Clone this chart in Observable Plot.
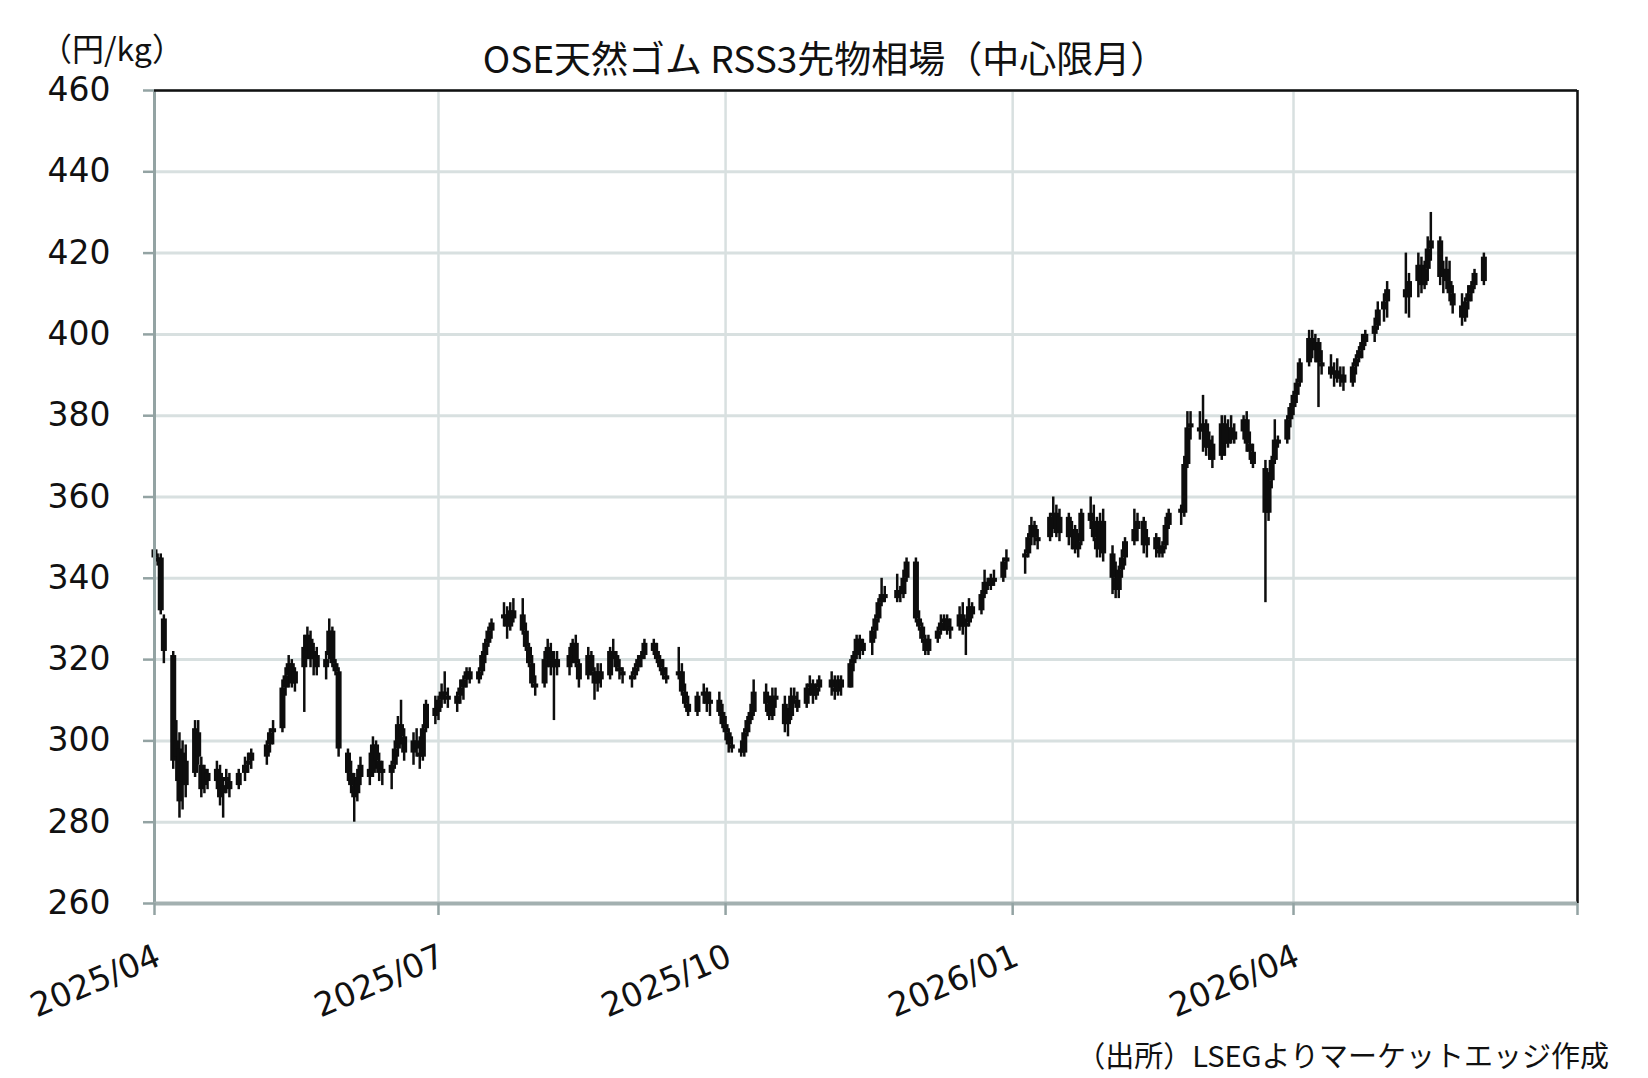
<!DOCTYPE html>
<html><head><meta charset="utf-8">
<script src="https://cdn.jsdelivr.net/npm/d3@7"></script>
<script src="https://cdn.jsdelivr.net/npm/@observablehq/plot@0.6"></script>
<style>
body{margin:0;background:#fff;}
#wrap{position:relative;width:1648px;height:1078px;overflow:hidden;background:#fff;}
#chart{position:absolute;left:0;top:0;}
.t{position:absolute;font-family:"Noto Sans CJK JP",sans-serif;color:#111;white-space:nowrap;line-height:1;}
#title{left:825px;top:39px;font-size:37px;transform:translateX(-50%);}
#unit{left:40px;top:31px;font-size:32px;}
#source{right:39px;top:1040px;font-size:29px;}
</style></head><body>
<div id="wrap">
<div id="chart"></div>
<div class="t" id="title">OSE天然ゴム RSS3先物相場（中心限月）</div>
<div class="t" id="unit">（円/kg）</div>
<div class="t" id="source">（出所）LSEGよりマーケットエッジ作成</div>
</div>
<script>
// [day, open, high, low, close] per trading day, grouped by month
const apr25 = [[1,347,349,344,345],[2,345,346,343,344],[3,345,346,331,332],[4,330,331,319,322],[7,321,322,293,295],[8,296,305,290,300],[9,298,302,281,285],[10,290,300,283,297],[11,295,299,286,289],[14,292,305,291,303],[15,302,305,294,296],[16,294,296,286,288],[17,289,294,287,293],[18,292,293,288,290],[21,290,295,288,293],[22,292,294,284,286],[23,287,291,281,289],[24,290,293,287,291],[25,290,292,286,288],[28,289,293,288,292],[30,292,296,290,294]];
const may25 = [[1,294,297,292,295],[2,295,298,293,297],[7,296,300,294,299],[8,299,303,297,302],[9,302,305,299,303],[12,303,315,302,313],[13,313,318,311,316],[14,316,321,313,319],[15,319,320,313,314],[16,314,318,312,317],[19,318,326,307,323],[20,322,328,320,326],[21,325,327,318,320],[22,320,324,316,322],[23,321,323,316,318],[26,318,322,315,320],[27,321,330,320,327],[28,327,328,318,319],[29,319,320,316,317],[30,317,318,296,298]];
const jun25 = [[2,297,298,290,292],[3,292,295,287,289],[4,289,292,280,286],[5,287,293,285,291],[6,291,296,289,294],[9,293,297,289,291],[10,292,301,291,299],[11,299,300,293,295],[12,295,297,290,292],[13,292,295,289,293],[16,292,295,288,294],[17,294,300,293,298],[18,298,306,296,304],[19,304,310,299,301],[20,301,303,295,297],[23,297,302,294,300],[24,300,303,296,298],[25,297,301,293,296],[26,296,304,295,303],[27,303,310,302,309],[30,308,311,304,306]];
const jul25 = [[1,307,311,305,310],[2,310,314,308,312],[3,312,317,309,311],[4,311,313,308,310],[7,309,312,307,311],[8,311,315,309,313],[9,313,316,310,315],[10,315,318,313,317],[11,317,318,314,315],[14,315,318,314,317],[15,317,322,316,321],[16,321,325,319,324],[17,324,328,323,327],[18,327,330,325,329],[22,330,334,328,331],[23,331,333,325,328],[24,328,334,327,332],[25,332,335,329,330],[28,331,335,326,327],[29,327,329,322,323],[30,323,324,318,319],[31,319,321,313,314]];
const aug25 = [[1,314,316,311,313],[4,314,322,313,320],[5,320,325,318,323],[6,322,324,316,318],[7,318,322,305,320],[8,320,322,316,318],[12,318,323,316,321],[13,321,325,319,324],[14,324,326,318,319],[15,319,320,313,315],[18,316,323,315,321],[19,321,322,316,317],[20,317,318,310,314],[21,314,319,312,317],[22,317,319,313,315],[25,316,323,315,322],[26,322,325,320,321],[27,321,322,317,318],[28,318,320,315,317],[29,317,318,314,316]];
const sep25 = [[1,315,317,313,316],[2,316,319,315,318],[3,318,321,317,320],[4,320,322,318,321],[5,321,325,320,324],[8,324,325,321,322],[9,322,324,319,320],[10,320,321,317,318],[11,318,320,315,316],[12,316,318,314,315],[16,316,323,315,317],[17,317,319,311,312],[18,312,314,308,309],[19,309,311,306,307],[22,307,312,306,311],[24,311,314,309,312],[25,312,313,307,309],[26,309,312,306,310],[29,310,312,306,307],[30,307,309,303,304]];
const oct25 = [[1,304,306,300,302],[2,302,303,297,299],[3,299,301,297,298],[6,298,300,296,297],[7,297,303,296,302],[8,302,306,301,305],[9,305,309,304,307],[10,307,315,306,312],[14,312,314,307,309],[15,309,311,305,306],[16,306,313,305,311],[17,311,313,308,310],[20,309,311,302,304],[21,304,308,301,306],[22,306,313,305,311],[23,311,313,309,310],[24,310,312,307,308],[27,309,314,308,313],[28,313,316,311,314],[29,314,315,309,311],[30,311,314,310,313],[31,313,316,312,315]];
const nov25 = [[4,315,317,311,313],[5,313,316,310,312],[6,312,316,311,315],[7,315,316,311,313],[10,313,320,313,319],[11,319,322,317,321],[12,321,326,320,325],[13,325,326,320,322],[14,322,325,321,324],[17,324,328,321,327],[18,327,331,325,330],[19,330,335,329,334],[20,334,340,333,336],[21,336,338,334,335],[25,335,341,334,337],[26,337,338,334,336],[27,336,342,335,340],[28,340,345,339,344]];
const dec25 = [[1,344,345,329,330],[2,330,332,327,328],[3,328,329,324,325],[4,325,326,321,322],[5,322,326,321,325],[8,325,328,324,327],[9,327,331,326,329],[10,329,331,327,330],[11,330,331,326,327],[12,327,330,325,328],[15,328,333,327,331],[16,331,334,326,328],[17,328,330,321,329],[18,329,335,328,333],[19,333,334,330,331],[22,332,337,331,336],[23,336,342,335,339],[24,339,340,337,338],[25,338,341,337,340],[26,340,342,338,339],[29,340,345,339,344],[30,344,347,342,345]];
const jan26 = [[5,345,347,341,346],[6,346,351,345,350],[7,350,355,348,353],[8,353,354,348,350],[9,350,352,347,349],[13,350,356,349,355],[14,355,360,352,356],[15,356,358,350,351],[16,351,357,349,355],[19,355,356,348,350],[20,350,354,347,352],[21,352,353,346,347],[22,347,351,345,349],[23,349,357,348,356],[26,356,360,352,354],[27,354,358,349,350],[28,350,355,345,347],[29,347,356,345,354],[30,354,357,344,346]];
const feb26 = [[2,346,348,336,340],[3,340,344,335,337],[4,337,343,335,342],[5,342,347,340,345],[6,345,350,343,349],[9,349,357,348,352],[10,352,356,349,354],[12,354,355,346,348],[13,348,352,345,350],[16,350,351,345,347],[17,347,350,345,346],[18,346,349,345,348],[19,348,355,347,353],[20,353,357,352,356],[24,356,358,353,357],[25,356,370,355,368],[26,368,381,367,377],[27,377,381,374,378]];
const mar26 = [[2,377,381,374,376],[3,376,385,371,378],[4,378,379,370,372],[5,372,376,369,374],[6,373,375,367,369],[9,370,380,369,378],[10,378,380,370,373],[11,373,379,372,377],[12,377,380,373,374],[13,374,378,373,376],[16,376,380,374,379],[17,379,381,371,373],[18,373,376,369,371],[19,371,373,367,368],[23,367,369,334,356],[24,356,366,354,364],[25,364,370,362,369],[26,369,379,368,374],[27,374,375,372,373],[30,374,380,373,379],[31,379,383,377,382]];
const apr26 = [[1,382,386,380,385],[2,385,389,383,388],[3,388,394,387,393],[6,393,401,392,399],[7,399,401,394,396],[8,396,400,393,398],[9,398,399,382,393],[10,393,396,390,392],[13,392,395,389,390],[14,390,393,387,391],[15,391,394,388,389],[16,389,392,387,390],[17,390,392,386,388],[20,388,393,387,392],[21,392,395,390,394],[22,394,397,393,396],[23,396,400,394,398],[24,398,401,397,400],[27,400,404,398,402],[28,402,408,401,406],[30,406,410,403,408]];
const may26 = [[1,408,413,404,411],[7,411,420,405,409],[8,409,415,404,413],[11,413,420,409,417],[12,417,419,410,412],[13,412,418,411,416],[14,416,424,413,421],[15,421,430,418,423],[18,423,424,412,414],[19,414,418,410,416],[20,416,419,411,413],[21,413,418,408,410],[22,410,412,405,407],[25,407,410,402,404],[26,404,409,403,408],[27,408,412,406,410],[28,410,413,408,412],[29,412,416,411,415]];
const jun26 = [[1,413,420,412,419]];

const yTicks = [260,280,300,320,340,360,380,400,420,440,460];
const quarterDates = ["2025-04-01","2025-07-01","2025-10-01","2026-01-01","2026-04-01","2026-07-01"];
const quarterLabels = ["2025/04","2025/07","2025/10","2026/01","2026/04"];

const months = [["2025-04",apr25],["2025-05",may25],["2025-06",jun25],["2025-07",jul25],["2025-08",aug25],["2025-09",sep25],["2025-10",oct25],["2025-11",nov25],["2025-12",dec25],["2026-01",jan26],["2026-02",feb26],["2026-03",mar26],["2026-04",apr26],["2026-05",may26],["2026-06",jun26]];
const data = months.flatMap(([ym, rows]) => rows.map(([d,o,h,l,c]) => ({
  date: new Date(`${ym}-${String(d).padStart(2,"0")}T00:00:00Z`), open:o, high:h, low:l, close:c
})));
const qDates = quarterDates.map(s => new Date(s + "T00:00:00Z"));
const labelData = quarterLabels.map((label,i) => ({date: qDates[i], label}));

const gridColor = "#d8e0e0";
const axisColor = "#93a3a3";

const chart = Plot.plot({
  width: 1648, height: 1078,
  marginLeft: 154, marginRight: 71, marginTop: 90, marginBottom: 175,
  x: {type: "utc", domain: [qDates[0], qDates[qDates.length-1]], axis: null},
  y: {domain: [260, 460], axis: null},
  style: {fontFamily: "'DejaVu Sans', Verdana, sans-serif", background: "#fff", color: "#111"},
  marks: [
    Plot.ruleY(yTicks, {y: d => d, stroke: gridColor, strokeWidth: 3}),
    Plot.ruleX(qDates, {x: d => d, stroke: gridColor, strokeWidth: 2.5}),
    Plot.ruleX(data, {x: "date", y1: "low", y2: "high", stroke: "#0d0d0d", strokeWidth: 2.5}),
    Plot.ruleX(data, {x: "date", y1: "open", y2: "close", stroke: "#0d0d0d", strokeWidth: 6}),
    Plot.ruleX([qDates[0]], {x: d => d, stroke: axisColor, strokeWidth: 3}),
    Plot.ruleY([460], {y: d => d, stroke: "#111", strokeWidth: 2.5}),
    Plot.ruleX([qDates[qDates.length-1]], {x: d => d, stroke: "#111", strokeWidth: 2.5}),
    Plot.ruleY([260], {y: d => d, stroke: "#a3b0b0", strokeWidth: 4}),
    Plot.axisY({ticks: yTicks, tickSize: 11, tickPadding: 33, fontSize: 33, stroke: axisColor, strokeWidth: 2.5, fill: "#111", label: null}),
    Plot.axisX({ticks: qDates, tickSize: 12, tickFormat: () => "", stroke: axisColor, strokeWidth: 2.5, label: null}),
    Plot.text(labelData, {x: "date", text: "label", frameAnchor: "bottom", dx: 4, dy: 51, rotate: -23, textAnchor: "end", lineAnchor: "middle", fontSize: 33, fill: "#111"})
  ]
});
document.getElementById("chart").appendChild(chart);
</script>
</body></html>
